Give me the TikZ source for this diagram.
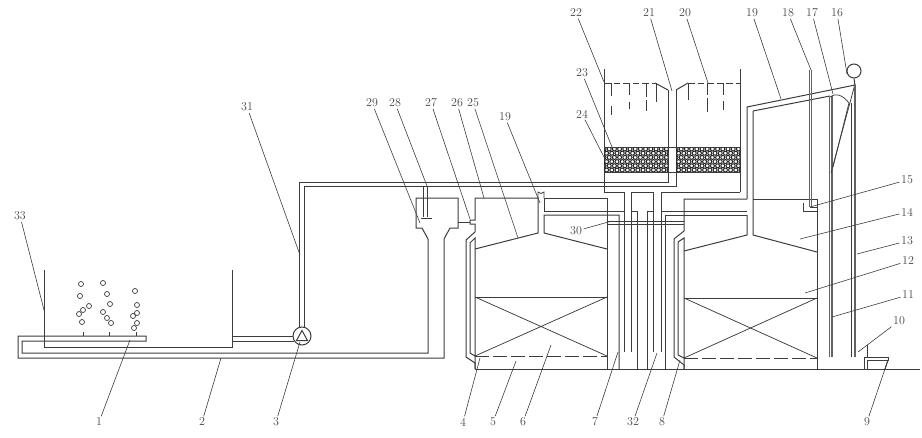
\documentclass[tikz,border=0pt]{standalone}
\usepackage{xcolor}
\usetikzlibrary{positioning}
\definecolor{wallgray}{RGB}{60,60,60}
\definecolor{textgray}{RGB}{70,70,70}
\tikzset{
    wall/.style={draw=wallgray, line width=1pt, line join=miter},
    thinwall/.style={draw=wallgray, line width=0.75pt},
    gaugetube/.style={draw=wallgray!80, line width=1.2pt},
    leader/.style={draw=wallgray, line width=0.6pt},
    waterline/.style={wall, dash pattern=on 6.5pt off 3pt},
    packing/.style={wall, dash pattern=on 14pt off 4pt},
    bubble/.style={circle, draw=wallgray, line width=0.7pt, inner sep=0pt, minimum size=5pt},
    partlabel/.style={inner sep=1.5pt, text=textgray, font=\fontsize{12}{12}\selectfont},
    pumpbody/.style={circle, draw=wallgray, line width=1pt, minimum size=18pt, inner sep=0pt}
}
\begin{document}
\begin{tikzpicture}[x=1pt, y=-1pt]
    \useasboundingbox (0,0) rectangle (922,437);
    % aeration tank
    \draw[wall] (44,270) -- (44,347) -- (232,347) -- (232,270);
    \draw[wall] (18,336) -- (146,336) -- (146,341) -- (22,341) -- (22,353) -- (428,353) -- (428,239) -- (422,228) -- (416,228) -- (416,198) -- (458,198) -- (458,228) -- (450,228) -- (444,239) -- (444,358) -- (18,358) -- cycle;
    \foreach \sx in {83,109,136}
        \draw[thinwall] (\sx,332) -- (\sx,336);
    \foreach \bx/\by in {81/284,80/296,89/306,83/310,79/314,82/322,103/283,107/294,110/304,103/312,107/318,111/323,135/291,137/305,137/313,133/316,137/323,134/328}
        \node[bubble] at (\bx,\by) {};
    % pump and return line
    \node[pumpbody] (pump) at (302,336) {};
    \draw[wall] (302,330.5) -- (307.5,340.5) -- (296.5,340.5) -- cycle;
    \draw[wall] (232,336) -- (pump.west);
    \draw[wall] (232,341) -- (294,341);
    \draw[wall] (299,327.5) -- (299,182) -- (668,182) -- (668,90);
    \draw[wall] (304,327.5) -- (304,186) -- (676,186) -- (676,90);
    % dosing tube
    \draw[wall] (423,186) -- (423,217);
    \draw[wall] (427,186) -- (427,217);
    \draw[wall] (421,218) -- (432,218);
    \draw[wall] (458,222) -- (470,222);
    % first reactor
    \draw[wall] (475,198) -- (475,220) -- (470,220) -- (470,224) -- (475,224) -- (475,232) -- (466,240) -- (466,357) -- (475,363) -- (475,369);
    \draw[wall] (475,369) -- (475,238) -- (470,243) -- (470,353) -- (475,356);
    \draw[wall] (475,198) -- (538,198) -- (538,233) -- (475,249);
    \draw[thinwall] (538,198) -- (538,192) -- (541,193.5) -- (544,192) -- (544,198);
    \draw[wall] (607,198) -- (544,198) -- (544,211) -- (624,211);
    \draw[wall] (619,369) -- (619,215) -- (544,215) -- (544,233) -- (607,249);
    \draw[wall] (607,198) -- (607,369);
    \draw[wall] (475,297) -- (607,297);
    \draw[thinwall] (475,297) -- (607,356) (607,297) -- (475,356);
    \draw[packing] (475,356) -- (607,356);
    % second reactor
    \draw[wall] (747,199) -- (684,199) -- (684,231) -- (674,239) -- (674,357) -- (684,365) -- (684,369);
    \draw[wall] (684,369) -- (684,238) -- (678,242) -- (678,355) -- (684,358);
    \draw[wall] (661,211) -- (747,211) (747,215) -- (665,215) -- (665,369);
    \draw[wall] (747,215) -- (747,235) -- (684,251);
    \draw[wall] (753,199) -- (817,199) -- (817,369);
    \draw[wall] (753,111) -- (753,235) -- (817,252);
    \draw[wall] (684,298) -- (817,298);
    \draw[thinwall] (684,298) -- (817,358) (817,298) -- (684,358);
    \draw[packing] (684,358) -- (817,358);
    % crossing pipes between the reactors
    \draw[wall] (604,192) -- (624,192) -- (624,352);
    \draw[wall] (631,352) -- (631,192) -- (653,192) -- (653,352);
    \draw[wall] (661,352) -- (661,192) -- (740,192);
    \draw[wall] (631,211) -- (637,211) -- (637,369);
    \draw[wall] (653,211) -- (647,211) -- (647,369);
    \draw[thinwall] (607,221) -- (684,221) (607,224) -- (684,224);
    % upper tank
    \draw[wall] (604,69) -- (604,192);
    \draw[wall] (740,69) -- (740,192);
    \draw[waterline] (604,83) -- (655,83);
    \draw[wall] (655,83) -- (668,90) (676,90) -- (688,83);
    \draw[waterline] (688,83) -- (740,83);
    \foreach \wx/\wa/\wb/\wc/\wd in {611/83/96/106/115,629/83/95/102/109,646/83/97/100/111,656/83/102/102/102,688/83/100/100/100,707/83/95/98/112,723/83/95/101/110}
        \draw[wall] (\wx,\wa) -- (\wx,\wb) (\wx,\wc) -- (\wx,\wd);
    % filter bed
    \foreach \bandx/\bandw in {604/64,676/64} {
        \begin{scope}
            \clip (\bandx,147) rectangle +(\bandw,25);
            \foreach \row in {0,...,6} {
                \foreach \col in {0,...,13} {
                    \pgfmathsetmacro{\gx}{\bandx+\col*5.2+mod(\row,2)*2.6}
                    \pgfmathsetmacro{\gy}{149+\row*4.2}
                    \draw[draw=black!85, line width=1pt] (\gx,\gy) circle (2);
                }
            }
        \end{scope}
    }
    \draw[wall] (604,147) -- (740,147) (604,172) -- (740,172);
    % outlet pipe, gauge and float valve
    \draw[wall] (747,199) -- (747,107) -- (855,85);
    \draw[wall] (753,111) -- (830,96);
    \draw[gaugetube] (809.5,70) -- (809.5,207) (811.5,70) -- (811.5,207);
    \draw[wall] (803,203) -- (803,211) -- (817,211);
    \draw[thinwall] (810,207) -- (817,207);
    \draw[gaugetube] (829.5,97) -- (829.5,357) (832,96) -- (832,357);
    \draw[thinwall] (830,97) .. controls (835,93) and (842,94) .. (849,103) -- (833,167);
    \draw[thinwall] (855,84) -- (831,173);
    \draw[wall] (851,103) -- (851,357);
    \draw[gaugetube] (855,85) -- (855,357);
    \node[circle, draw=wallgray, line width=1pt, fill=white, minimum size=14pt, inner sep=0pt] (ball) at (854,71) {};
    \draw[wall] (ball.south) -- (855,85);
    % ground and drain
    \draw[wall] (475,369) -- (920,369);
    \draw[wall] (867,345) -- (867,357) -- (888,357) -- (888,360) -- (867,360) -- (867,369);
    \draw[wall] (864,357) -- (867,357) (864,357) -- (864,369);
    \draw[wall] (888,360) -- (885,369);
    % part numbers and their leaders
    \foreach \id/\txt/\lx/\ly/\ex/\ey in {
        a1/1/99/422/130/340, a2/2/202/422/221/358, a3/3/276/422/300/342, a4/4/463/422/480/358,
        a5/5/493/422/516/361, a6/6/523/422/551/345, a7/7/595/422/618/352, a8/8/662/422/680/360,
        a9/9/867/422/888/360, a10/10/899/321/858/352, a11/11/908/295/832/317, a12/12/908/261/805/293,
        a13/13/907/241/857/254, a14/14/907/212/800/239, a15/15/907/180/810/207, a16/16/837/13/847/74,
        a17/17/812/13/833/94, a18/18/788/13/811/70, a19/19/752/13/781/99, a20/20/685/13/708/83,
        a21/21/649/13/672/91, a22/22/576/13/604/82, a23/23/582/73/612/147, a24/24/582/114/604/157,
        a25/25/473/103/518/238, a26/26/457/103/484/198, a27/27/431/103/470/219, a28/28/395/103/427/186,
        a29/29/372/103/420/223, b19/19/505/117/540/203, a30/30/576/231/612/221, a31/31/247/107/300/255,
        a32/32/633/422/657/353, a33/33/20/216/44/310} {
        \node[partlabel] (\id) at (\lx,\ly) {\txt};
        \coordinate (end\id) at (\ex,\ey);
        \draw[leader] (\id) -- (end\id);
    }
\end{tikzpicture}
\end{document}
